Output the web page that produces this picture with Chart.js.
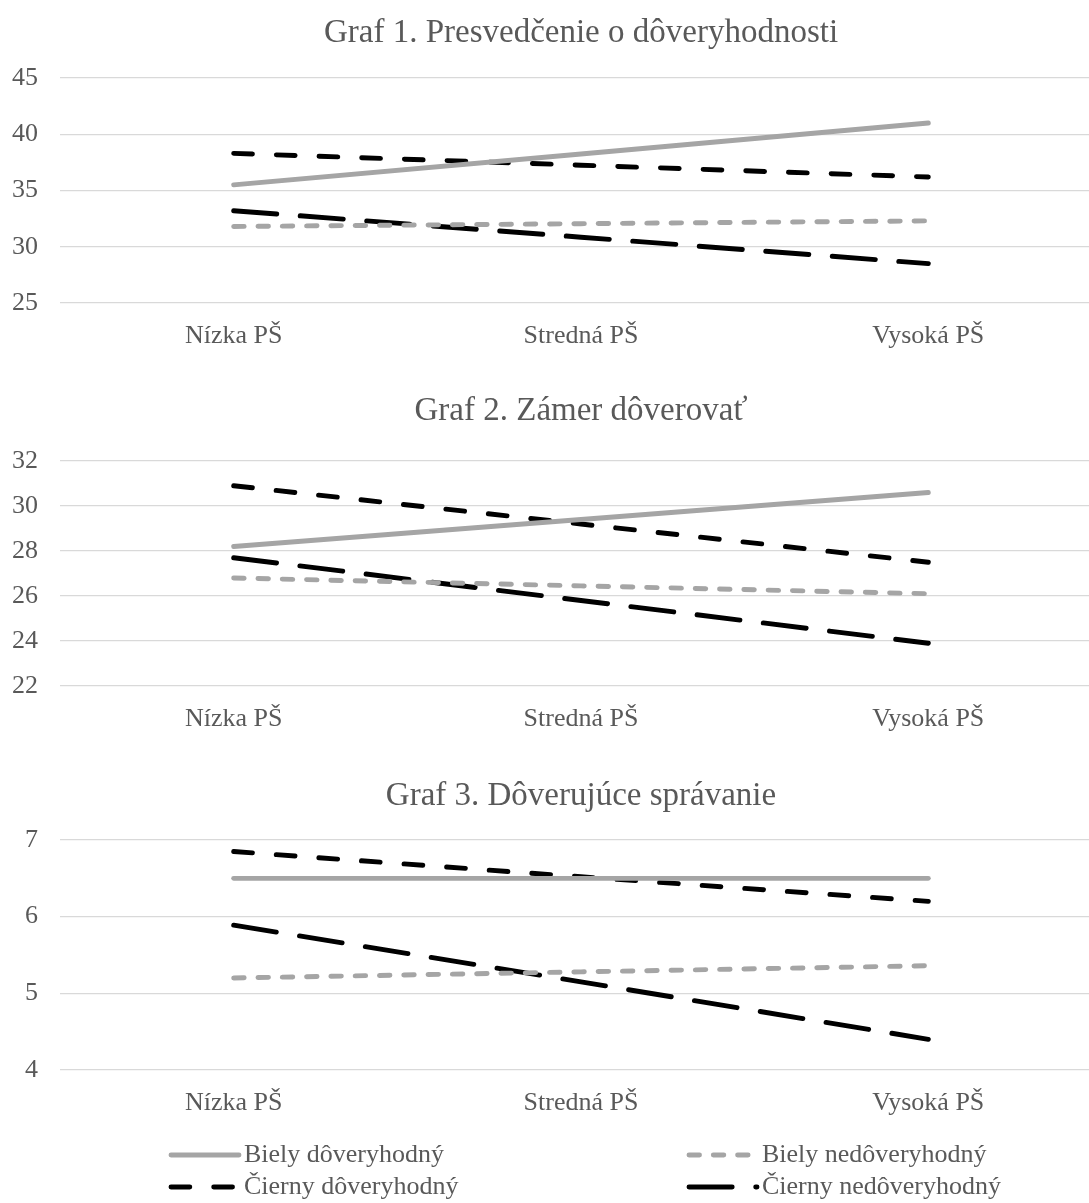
<!DOCTYPE html>
<html>
<head>
<meta charset="utf-8">
<script src="https://cdn.jsdelivr.net/npm/chart.js@4/dist/chart.umd.min.js"></script>
<style>
  html, body { margin: 0; padding: 0; background: #fff; overflow: hidden; }
  .box { position: absolute; left: 0; }
</style>
</head>
<body>
<div class="box" style="top:0px"><canvas id="graf1" width="1162" height="378"></canvas></div>
<div class="box" style="top:378px"><canvas id="graf2" width="1162" height="385"></canvas></div>
<div class="box" style="top:763px"><canvas id="graf3" width="1162" height="440"></canvas></div>
<script>
// kategórie a názvy skupín
const categories = ['Nízka PŠ', 'Stredná PŠ', 'Vysoká PŠ'];
const seriesNames = ['Biely dôveryhodný', 'Biely nedôveryhodný', 'Čierny dôveryhodný', 'Čierny nedôveryhodný'];

// Graf 1. Presvedčenie o dôveryhodnosti
const bielyDov1 = [35.5, 38.25, 41.0];
const bielyNed1 = [31.8, 32.05, 32.3];
const ciernyDov1 = [38.3, 37.25, 36.2];
const ciernyNed1 = [33.2, 30.85, 28.5];

// Graf 2. Zámer dôverovať
const bielyDov2 = [28.2, 29.4, 30.6];
const bielyNed2 = [26.8, 26.45, 26.1];
const ciernyDov2 = [30.9, 29.2, 27.5];
const ciernyNed2 = [27.7, 25.8, 23.9];

// Graf 3. Dôverujúce správanie
const bielyDov3 = [6.5, 6.5, 6.5];
const bielyNed3 = [5.2, 5.28, 5.36];
const ciernyDov3 = [6.85, 6.52, 6.2];
const ciernyNed3 = [5.89, 5.15, 4.4];

const titles = ['Graf 1. Presvedčenie o dôveryhodnosti', 'Graf 2. Zámer dôverovať', 'Graf 3. Dôverujúce správanie'];

const FONT = "'Liberation Serif', 'Times New Roman', serif";
const TEXT = '#595959';

// štýl čiar pre každú skupinu
const lineStyles = [
    { color: '#a5a5a5', dash: [] },
    { color: '#a5a5a5', dash: [10.5, 13.8] },
    { color: '#000000', dash: [18.8, 23.9] },
    { color: '#000000', dash: [43.2, 23.5] }
];

function makeDatasets(values) {
    return values.map((v, i) => ({
        label: seriesNames[i],
        data: v,
        borderColor: lineStyles[i].color,
        backgroundColor: lineStyles[i].color,
        borderDash: lineStyles[i].dash,
        borderWidth: 4.9,
        borderCapStyle: 'round',
        pointRadius: 0,
        tension: 0
    }));
}

// legenda kreslená pod tretím grafom, v dvoch stĺpcoch
const bottomLegend = {
    id: 'bottomLegend',
    afterDraw(chart, args, opts) {
        if (!opts.show) return;
        const ctx = chart.ctx;
        const cols = [171, 689];
        const rows = [392, 424];
        chart.data.datasets.forEach((ds, i) => {
            const x = cols[i % 2];
            const y = rows[Math.floor(i / 2)];
            ctx.save();
            ctx.strokeStyle = ds.borderColor;
            ctx.lineWidth = ds.borderWidth;
            ctx.lineCap = 'round';
            ctx.setLineDash(ds.borderDash);
            ctx.beginPath();
            ctx.moveTo(x, y);
            ctx.lineTo(x + 68, y);
            ctx.stroke();
            ctx.setLineDash([]);
            ctx.fillStyle = TEXT;
            ctx.font = '26px ' + FONT;
            ctx.textBaseline = 'middle';
            ctx.fillText(ds.label, x + 73, y);
            ctx.restore();
        });
    }
};

function makeChart(id, title, values, yMin, yMax, yStep, plotTop, plotBottom, height, legend) {
    return new Chart(document.getElementById(id), {
        type: 'line',
        data: { labels: categories, datasets: makeDatasets(values) },
        plugins: [bottomLegend],
        options: {
            responsive: false,
            animation: false,
            layout: { padding: 0 },
            plugins: {
                legend: { display: false },
                tooltip: { enabled: false },
                title: {
                    display: true,
                    text: title,
                    color: TEXT,
                    font: { family: FONT, size: 33, weight: 'normal', lineHeight: 1.2 },
                    padding: { top: 13.2, bottom: plotTop - 52.8 }
                },
                bottomLegend: { show: legend }
            },
            scales: {
                x: {
                    offset: true,
                    grid: { display: false },
                    border: { display: false },
                    ticks: { color: TEXT, font: { family: FONT, size: 26 }, padding: 10, maxRotation: 0 },
                    afterFit: s => { s.height = height - plotBottom; }
                },
                y: {
                    min: yMin,
                    max: yMax,
                    grid: { color: '#d9d9d9', lineWidth: 1.3, drawTicks: false },
                    border: { display: false },
                    ticks: { stepSize: yStep, color: TEXT, font: { family: FONT, size: 26 }, padding: 22 },
                    afterFit: s => { s.width = 60; }
                },
                yRight: {
                    position: 'right',
                    grid: { display: false },
                    border: { display: false },
                    ticks: { display: false },
                    afterFit: s => { s.width = 60; }
                }
            }
        }
    });
}

makeChart('graf1', titles[0], [bielyDov1, bielyNed1, ciernyDov1, ciernyNed1], 25, 45, 5, 78, 303, 378, false);
makeChart('graf2', titles[1], [bielyDov2, bielyNed2, ciernyDov2, ciernyNed2], 22, 32, 2, 83, 308, 385, false);
makeChart('graf3', titles[2], [bielyDov3, bielyNed3, ciernyDov3, ciernyNed3], 4, 7, 1, 77, 307, 440, true);
</script>
</body>
</html>
